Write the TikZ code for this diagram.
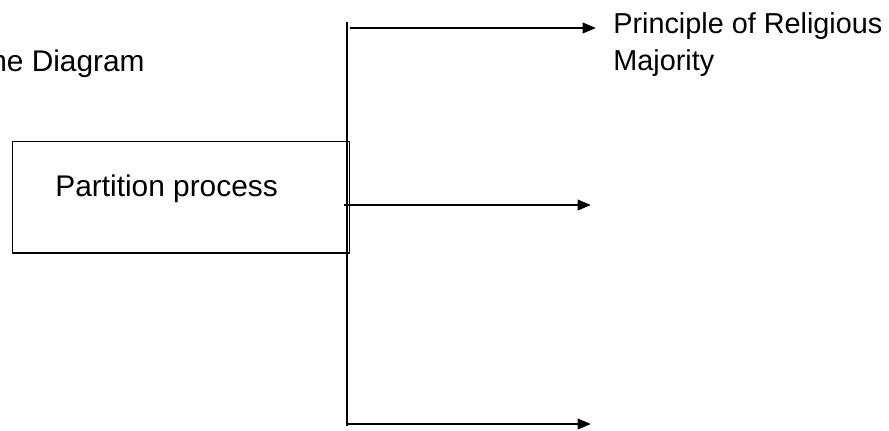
\documentclass[tikz,border=0pt]{standalone}
\usepackage{fontspec}
\setmainfont{Liberation Sans}
\usetikzlibrary{arrows.meta,positioning}

\begin{document}
\begin{tikzpicture}[
		x=0.02cm, y=-0.02cm,
		every node/.style={font=\fontsize{17}{21}\selectfont, inner sep=0pt},
		branch/.style={-{Triangle[length=0.27cm, width=0.21cm]}, line width=1.4pt},
	]
	\useasboundingbox (0,0) rectangle (889,430);
	\node[anchor=base east] (title) at (145,71) {The Diagram};
	\node[draw, line width=0.7pt, anchor=north west, minimum width=6.74cm, minimum height=2.23cm] (box) at (12,141) {};
	\node[anchor=base west] (proc) at (55,196) {Partition process};
	\node[anchor=north west, align=left, font=\fontsize{16.4}{21}\selectfont] (rel) at (613,12) {Principle of Religious\\Majority};
	\coordinate (top) at (347,22);
	\coordinate (bot) at (347,426);
	\draw[line width=1.4pt] (top) -- (bot);
	\coordinate (s1) at (350,28);
	\coordinate (e1) at (596,28);
	\coordinate (s2) at (344,205);
	\coordinate (e2) at (591,205);
	\coordinate (s3) at (347,424);
	\coordinate (e3) at (591,424);
	\draw[branch] (s1) -- (e1);
	\draw[branch] (s2) -- (e2);
	\draw[branch] (s3) -- (e3);
\end{tikzpicture}
\end{document}
